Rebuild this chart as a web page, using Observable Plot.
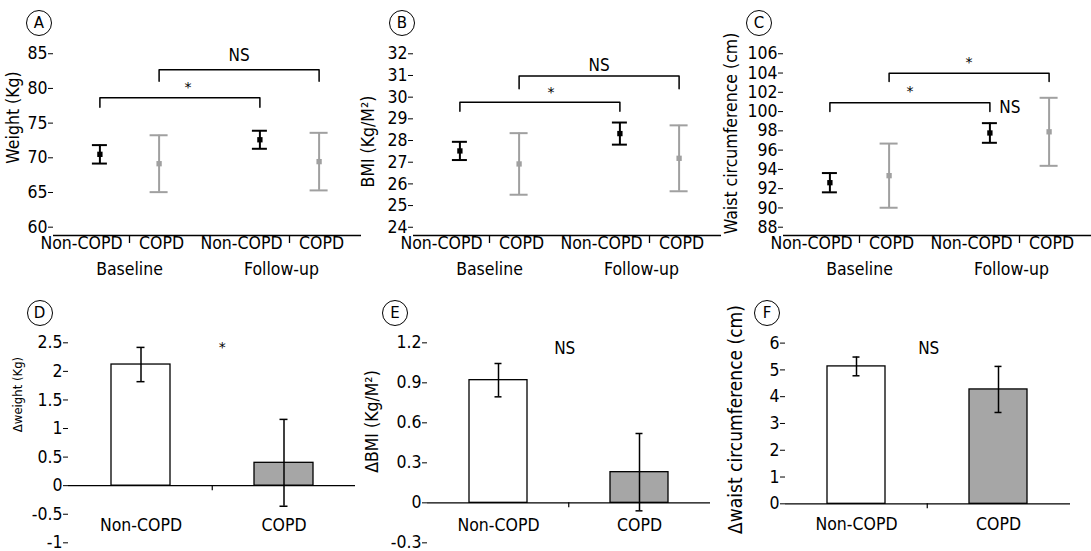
<!DOCTYPE html>
<html><head><meta charset="utf-8">
<script src="https://cdn.jsdelivr.net/npm/d3@7"></script>
<script src="https://cdn.jsdelivr.net/npm/@observablehq/plot@0.6"></script>
<style>
body{margin:0;background:#fff;}
#chart{position:relative;width:1091px;height:551px;overflow:hidden;background:#fff;}
.panel{position:absolute;}
.tag{position:absolute;box-sizing:border-box;width:26px;height:26px;border:1.3px solid #000;border-radius:50%;font:15px "DejaVu Sans",sans-serif;display:flex;align-items:center;justify-content:center;color:#000;}
</style></head><body><div id="chart"></div>
<script>
const FONT = '"DejaVu Sans Condensed","DejaVu Sans",sans-serif';
const groups = ["Baseline", "Follow-up"];
const cohorts = ["Non-COPD", "COPD"];
// Top panels: order = Baseline Non-COPD, Baseline COPD, Follow-up Non-COPD, Follow-up COPD
const weightMean = [70.5, 69.15, 72.6, 69.45];
const weightErr  = [1.33, 4.1, 1.3, 4.15];
const bmiMean    = [27.52, 26.92, 28.32, 27.18];
const bmiErr     = [0.42, 1.42, 0.51, 1.52];
const waistMean  = [92.62, 93.35, 97.78, 97.9];
const waistErr   = [1.0, 3.33, 1.02, 3.53];
// Bottom panels: order = Non-COPD, COPD
const dWeightMean = [2.12, 0.40];
const dWeightErr  = [0.30, 0.76];
const dBmiMean    = [0.92, 0.23];
const dBmiErr     = [0.125, 0.29];
const dWaistMean  = [5.13, 4.27];
const dWaistErr   = [0.35, 0.86];
// Tick values
const weightTicks = [60, 65, 70, 75, 80, 85];
const bmiTicks = [24, 25, 26, 27, 28, 29, 30, 31, 32];
const waistTicks = [88, 90, 92, 94, 96, 98, 100, 102, 104, 106];
const dWeightTicks = [-1, -0.5, 0, 0.5, 1, 1.5, 2, 2.5];
const dBmiTicks = [-0.3, 0, 0.3, 0.6, 0.9, 1.2];
const dWaistTicks = [0, 1, 2, 3, 4, 5, 6];
// Significance annotations (from / to are point indices)
const weightBrackets = [
  {from: 0, to: 2, top: 78.66, foot: 77.3, text: "*", textY: 80.1},
  {from: 1, to: 3, top: 82.69, foot: 81.05, text: "NS", textY: 84.75}
];
const bmiBrackets = [
  {from: 0, to: 2, top: 29.77, foot: 29.35, text: "*", textY: 30.23},
  {from: 1, to: 3, top: 30.97, foot: 30.39, text: "NS", textY: 31.46}
];
const waistBrackets = [
  {from: 0, to: 2, top: 100.91, foot: 100.01, text: "*", textY: 102.12},
  {from: 1, to: 3, top: 103.99, foot: 103.12, text: "*", textY: 105.07}
];
const waistNotes = [{x: 2.88, y: 100.46, text: "NS"}];

const chart = document.getElementById("chart");
const grayPt = "#a0a0a0";
const STAR_FONT = '"DejaVu Sans",sans-serif';

function place(svg, left, top) {
  const d = document.createElement("div");
  d.className = "panel"; d.style.left = left + "px"; d.style.top = top + "px";
  d.appendChild(svg); chart.appendChild(d);
}
function tag(letter, cx, cy) {
  const d = document.createElement("div");
  d.className = "tag"; d.textContent = letter;
  d.style.left = (cx - 13) + "px"; d.style.top = (cy - 13) + "px";
  chart.appendChild(d);
}
function yAxisMarks(yTicks) {
  return [
    Plot.axisY({ticks: yTicks, tickSize: 5, line: true, label: null, tickFormat: () => ""}),
    Plot.text(yTicks, {y: d => d, text: d => String(d), frameAnchor: "left", textAnchor: "end", lineAnchor: "middle",
      dx: -6, fontSize: 17.5, fontFamily: FONT, fill: "#000"})
  ];
}

function topPanel(cfg) {
  const {means, errs, yDomain, yTicks, ylabel, labelDx, labelDy, brackets, starShift, notes, left, width, mLeft, mRight} = cfg;
  const height = 290, mTop = 47, mBottom = 55;
  const xDomain = [0.05, 3.9];
  const ppuX = (width - mLeft - mRight) / (xDomain[1] - xDomain[0]);
  const ppuY = (height - mTop - mBottom) / (yDomain[1] - yDomain[0]);
  const pts = means.map((m, i) => {
    const g = Math.floor(i / 2), c = i % 2;
    return {g, c, cohort: cohorts[c], x: 2 * g + 1 + (c ? 0.37 : -0.37), lx: 2 * g + c + 0.4, mean: m, err: errs[i]};
  });
  const paths = brackets.flatMap((b, k) => {
    const x1 = pts[b.from].x, x2 = pts[b.to].x;
    return [[x1, b.foot], [x1, b.top], [x2, b.top], [x2, b.foot]].map(([x, y]) => ({k, x, y}));
  });
  const btext = brackets.map(b => ({x: (pts[b.from].x + pts[b.to].x) / 2 + (b.text === "*" ? starShift : 0), y: b.textY, text: b.text}));
  const marks = [];
  for (const c of [0, 1]) {
    const col = c ? grayPt : "#000";
    const cap = (c ? 9 : 7.5) / ppuX;
    const sub = pts.filter(d => d.c === c);
    marks.push(
      Plot.ruleX(sub, {x: "x", y1: d => d.mean - d.err, y2: d => d.mean + d.err, stroke: col, strokeWidth: 2}),
      Plot.ruleY(sub, {y: d => d.mean + d.err, x1: d => d.x - cap, x2: d => d.x + cap, stroke: col, strokeWidth: 2}),
      Plot.ruleY(sub, {y: d => d.mean - d.err, x1: d => d.x - cap, x2: d => d.x + cap, stroke: col, strokeWidth: 2}),
      Plot.dot(sub, {x: "x", y: "mean", symbol: "square", r: 3, fill: col, stroke: null})
    );
  }
  const svg = Plot.plot({
    width, height, marginLeft: mLeft, marginRight: mRight, marginTop: mTop, marginBottom: mBottom,
    style: {fontFamily: FONT, fontSize: "17.5px", color: "#000", background: "transparent", overflow: "visible"},
    x: {type: "linear", domain: xDomain, axis: null},
    y: {domain: yDomain, axis: null},
    marks: [
      Plot.ruleY([yDomain[0]], {stroke: "#000", strokeWidth: 1.3}),
      Plot.ruleX([1, 3], {y1: yDomain[0], y2: yDomain[0] - 8 / ppuY, stroke: "#000", strokeWidth: 1.3}),
      ...yAxisMarks(yTicks),
      ...marks,
      Plot.line(paths, {x: "x", y: "y", z: "k", stroke: "#000", strokeWidth: 1.5}),
      Plot.text(btext.filter(d => d.text !== "*"), {x: "x", y: "y", text: "text", fontSize: 17, fill: "#000"}),
      Plot.text(btext.filter(d => d.text === "*"), {x: "x", y: "y", text: "text", fontSize: 14, fontFamily: STAR_FONT, fill: "#000"}),
      Plot.text(notes, {x: "x", y: "y", text: "text", fontSize: 17, fill: "#000"}),
      Plot.text(pts, {x: "lx", text: "cohort", frameAnchor: "bottom", dy: 13, fontSize: 17.5, fill: "#000"}),
      Plot.text(groups, {x: (d, i) => 1 + 1.9 * i, text: d => d, frameAnchor: "bottom", dy: 39, fontSize: 17.5, fill: "#000"}),
      Plot.text([ylabel], {text: d => d, frameAnchor: "left", textAnchor: "middle", lineAnchor: "middle", rotate: -90, dx: labelDx, dy: labelDy, fontSize: 17.5, fill: "#000"})
    ]
  });
  place(svg, left, 0);
}

function bottomPanel(cfg) {
  const {means, errs, yDomain, yTicks, ylabel, labelSize, labelDx, labelDy, note, noteY, noteShift, xlabDy, left, width, mLeft, mRight, mBottom} = cfg;
  const height = 251, mTop = 41;
  const ppuY = (height - mTop - mBottom) / (yDomain[1] - yDomain[0]);
  const step = (width - mLeft - mRight) / 2;
  const data = means.map((m, i) => ({cohort: cohorts[i], mean: m, err: errs[i]}));
  const svg = Plot.plot({
    width, height, marginLeft: mLeft, marginRight: mRight, marginTop: mTop, marginBottom: mBottom,
    style: {fontFamily: FONT, fontSize: "17.5px", color: "#000", background: "transparent", overflow: "visible"},
    x: {type: "band", domain: cohorts, paddingInner: 0.59, paddingOuter: 0.295, axis: null},
    y: {domain: yDomain, axis: null},
    color: {domain: cohorts, range: ["#ffffff", "#a6a6a6"]},
    marks: [
      Plot.barY(data, {x: "cohort", y: "mean", fill: "cohort", stroke: "#000", strokeWidth: 1.3}),
      Plot.ruleY([0], {stroke: "#000", strokeWidth: 1.3}),
      Plot.ruleX(["COPD"], {x: d => d, y1: 0, y2: -5 / ppuY, dx: -step / 2, stroke: "#000", strokeWidth: 1.2}),
      ...yAxisMarks(yTicks),
      Plot.ruleX(data, {x: "cohort", y1: d => d.mean - d.err, y2: d => d.mean + d.err, stroke: "#000", strokeWidth: 1.5}),
      Plot.tickY(data, {x: "cohort", y: d => d.mean + d.err, insetLeft: 25.5, insetRight: 25.5, stroke: "#000", strokeWidth: 1.5}),
      Plot.tickY(data, {x: "cohort", y: d => d.mean - d.err, insetLeft: 25.5, insetRight: 25.5, stroke: "#000", strokeWidth: 1.5}),
      Plot.text([note], {x: () => "COPD", y: () => noteY, text: d => d, dx: -step / 2 + noteShift,
        fontSize: note === "*" ? 14 : 17, fontFamily: note === "*" ? STAR_FONT : FONT, fill: "#000"}),
      Plot.text(cohorts, {x: d => d, text: d => d, frameAnchor: "bottom", dy: xlabDy, fontSize: 17.5, fill: "#000"}),
      Plot.text([ylabel], {text: d => d, frameAnchor: "left", textAnchor: "middle", lineAnchor: "middle", rotate: -90, dx: labelDx, dy: labelDy, fontSize: labelSize, fill: "#000"})
    ]
  });
  place(svg, left, 300);
}

topPanel({means: weightMean, errs: weightErr, yDomain: [58.8, 85.9], yTicks: weightTicks, ylabel: "Weight (Kg)",
  labelDx: -40, labelDy: -24, brackets: weightBrackets, starShift: 0.1, notes: [], left: 0, width: 363, mLeft: 53, mRight: 2});
topPanel({means: bmiMean, errs: bmiErr, yDomain: [23.62, 32.29], yTicks: bmiTicks, ylabel: "BMI (Kg/M²)",
  labelDx: -45, labelDy: 0, brackets: bmiBrackets, starShift: 0.14, notes: [], left: 360, width: 363, mLeft: 53, mRight: 2});
topPanel({means: waistMean, errs: waistErr, yDomain: [87.14, 106.65], yTicks: waistTicks, ylabel: "Waist circumference (cm)",
  labelDx: -52, labelDy: -8, brackets: waistBrackets, starShift: 0, notes: waistNotes, left: 720, width: 371, mLeft: 63, mRight: 0});

bottomPanel({means: dWeightMean, errs: dWeightErr, yDomain: [-1.047, 2.523], yTicks: dWeightTicks, ylabel: "Δweight (Kg)",
  labelSize: 13, labelDx: -51, labelDy: -49, note: "*", noteY: 2.42, noteShift: 10, xlabDy: -15,
  left: 0, width: 360, mLeft: 68, mRight: 5, mBottom: 6});
bottomPanel({means: dBmiMean, errs: dBmiErr, yDomain: [-0.32, 1.21], yTicks: dBmiTicks, ylabel: "ΔBMI (Kg/M²)",
  labelSize: 17.5, labelDx: -55, labelDy: -22, note: "NS", noteY: 1.16, noteShift: -4, xlabDy: -15,
  left: 360, width: 360, mLeft: 67, mRight: 10, mBottom: 6});
bottomPanel({means: dWaistMean, errs: dWaistErr, yDomain: [-0.063, 6.06], yTicks: dWaistTicks, ylabel: "Δwaist circumference (cm)",
  labelSize: 19, labelDx: -50, labelDy: -4, note: "NS", noteY: 5.81, noteShift: 1.5, xlabDy: 24,
  left: 720, width: 371, mLeft: 65, mRight: 21, mBottom: 46});

tag("A", 39, 23); tag("B", 402, 23); tag("C", 759, 23);
tag("D", 39.5, 313); tag("E", 395, 313); tag("F", 767, 313);
</script></body></html>
